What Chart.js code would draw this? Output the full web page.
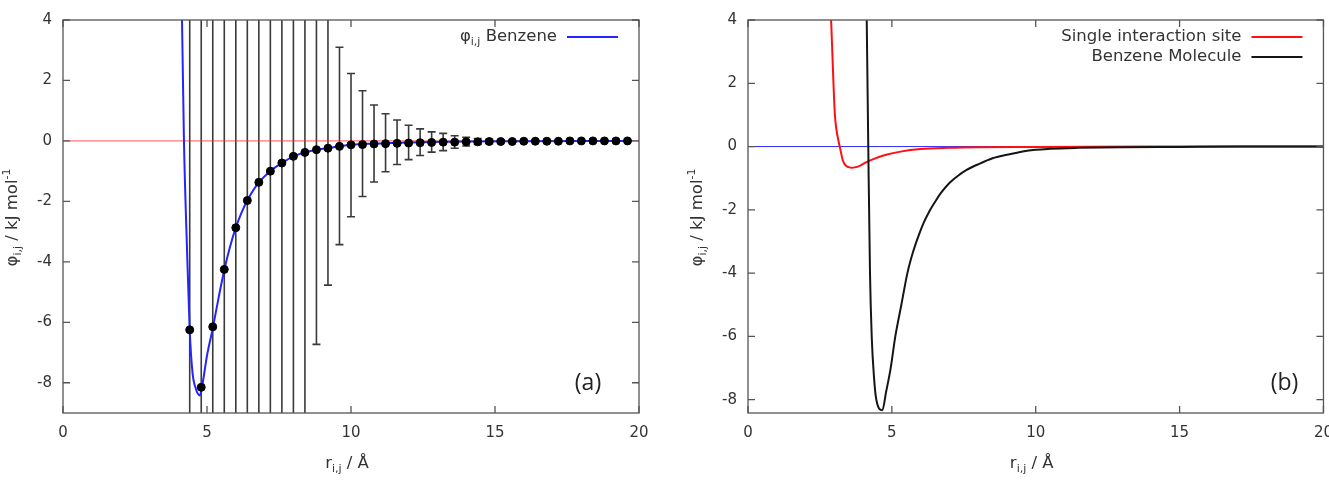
<!DOCTYPE html>
<html>
<head>
<meta charset="utf-8">
<script src="https://cdn.jsdelivr.net/npm/chart.js@4"></script>
<style>
  html, body { margin: 0; padding: 0; background: #fff; overflow: hidden; width: 1329px; height: 480px; }
  .panel { position: absolute; top: 0; height: 480px; }
  #leftBox { left: 0; width: 664px; }
  #rightBox { left: 664px; width: 680px; }
</style>
</head>
<body>
<div class="panel" id="leftBox"><canvas id="chartA" width="664" height="480"></canvas></div>
<div class="panel" id="rightBox"><canvas id="chartB" width="680" height="480"></canvas></div>
<script>
// axis ticks
const xTicks = [0, 5, 10, 15, 20];
const yTicks = [-8, -6, -4, -2, 0, 2, 4];

// (a) sampled points with error bars
const dotR = [4.4, 4.8, 5.2, 5.6, 6.0, 6.4, 6.8, 7.2, 7.6, 8.0, 8.4, 8.8, 9.2, 9.6, 10.0, 10.4, 10.8, 11.2, 11.6, 12.0,
              12.4, 12.8, 13.2, 13.6, 14.0, 14.4, 14.8, 15.2, 15.6, 16.0, 16.4, 16.8, 17.2, 17.6, 18.0, 18.4, 18.8, 19.2, 19.6];
const dotV = [-6.25, -8.15, -6.15, -4.25, -2.87, -1.97, -1.37, -1.0, -0.73, -0.51, -0.38, -0.29, -0.24, -0.18, -0.13, -0.12, -0.1, -0.09, -0.08, -0.07,
              -0.06, -0.05, -0.04, -0.04, -0.03, -0.03, -0.02, -0.02, -0.02, -0.01, -0.01, -0.01, -0.01, 0, 0, 0, 0, 0, 0];
const errHi = [20, 20, 20, 20, 20, 20, 20, 20, 20, 20, 20, 20, 20, 3.1, 2.23, 1.66, 1.19, 0.9, 0.69, 0.52,
               0.40, 0.30, 0.25, 0.17, 0.12, 0.08, 0.05, 0.03, 0.02, 0.02, 0.01, 0.01, 0.01, 0.01, 0.01, 0.01, 0.01, 0.01, 0.01];
const errLo = [-20, -20, -20, -20, -20, -20, -20, -20, -20, -20, -20, -6.73, -4.77, -3.43, -2.51, -1.84, -1.36, -1.02, -0.78, -0.62,
               -0.48, -0.37, -0.32, -0.24, -0.17, -0.12, -0.08, -0.06, -0.04, -0.03, -0.02, -0.02, -0.01, -0.01, -0.01, -0.01, -0.01, -0.01, -0.01];

// (a) fitted curve
const blueR = [4.1, 4.2, 4.3, 4.4, 4.5, 4.58, 4.75, 4.85, 5.0, 5.2, 5.4, 5.6, 5.8, 6.0, 6.2, 6.4, 6.8, 7.2, 7.6, 8.0,
               8.4, 8.8, 9.2, 9.6, 10.0, 10.8, 12.0, 14.0, 16.0, 19.6];
const blueV = [6, 0, -3.4, -6.28, -7.7, -8.1, -8.42, -8.0, -7.1, -6.2, -5.2, -4.27, -3.5, -2.87, -2.37, -1.97, -1.375, -1.0, -0.73, -0.51,
               -0.38, -0.29, -0.24, -0.18, -0.13, -0.09, -0.05, -0.02, -0.01, 0];

// (b) curves
const redR = [2.88, 2.93, 2.97, 3.02, 3.08, 3.14, 3.2, 3.3, 3.4, 3.5, 3.6, 3.75, 3.9, 4.1, 4.4, 4.8, 5.3, 6.0, 7.0, 8.0, 10, 14, 20];
const redV = [4.2, 3.0, 2.0, 1.0, 0.5, 0.2, -0.05, -0.45, -0.6, -0.65, -0.67, -0.65, -0.6, -0.5, -0.38, -0.26, -0.16, -0.08, -0.04, -0.02, -0.01, 0, 0];
const blackR = [4.1, 4.18, 4.24, 4.3, 4.38, 4.46, 4.67, 4.8, 4.95, 5.12, 5.33, 5.54, 5.73, 5.92, 6.1, 6.3, 6.5, 6.72, 7.0, 7.3,
                7.6, 8.0, 8.5, 9.0, 9.7, 10.5, 11.5, 13, 15, 17, 20];
const blackV = [6, 0, -4, -6, -7.3, -8.0, -8.33, -7.75, -7.05, -6.0, -5.0, -4.0, -3.35, -2.84, -2.42, -2.05, -1.75, -1.45, -1.15, -0.92,
                -0.74, -0.56, -0.37, -0.26, -0.13, -0.07, -0.04, -0.02, -0.01, 0, 0];

// zero reference line
const zeroR = [0, 20];
const zeroV = [0, 0];

const FONT = '"DejaVu Sans", sans-serif';
const TXT = '#333';

const pts = (xs, ys) => xs.map((x, i) => ({ x: x, y: ys[i] }));

function setFont(ctx, p) {
  ctx.font = ((p.sub || p.sup) ? 11 : 16.5) + 'px ' + FONT;
}
function richWidth(ctx, parts) {
  let w = 0;
  parts.forEach(p => { setFont(ctx, p); w += ctx.measureText(p.t).width; });
  return w;
}
function drawRich(ctx, parts, x, y, align) {
  const w = richWidth(ctx, parts);
  let cx = align === 'right' ? x - w : (align === 'center' ? x - w / 2 : x);
  ctx.textAlign = 'left';
  ctx.textBaseline = 'middle';
  ctx.fillStyle = TXT;
  parts.forEach(p => {
    setFont(ctx, p);
    const dy = p.sub ? 5 : (p.sup ? -6 : 0);
    ctx.fillText(p.t, cx, y + dy);
    cx += ctx.measureText(p.t).width;
  });
}

// vertical error bars with caps, placed through the scales
const errBarPlugin = {
  id: 'errBars',
  beforeDatasetsDraw(chart, args, opts) {
    if (!opts.r) return;
    const { ctx, chartArea: a, scales: { x, y } } = chart;
    ctx.save();
    ctx.beginPath();
    ctx.rect(a.left, a.top, a.right - a.left, a.bottom - a.top);
    ctx.clip();
    ctx.strokeStyle = '#3a3a3a';
    ctx.lineWidth = 1.6;
    opts.r.forEach((r, i) => {
      const px = x.getPixelForValue(r);
      const hi = y.getPixelForValue(opts.hi[i]);
      const lo = y.getPixelForValue(opts.lo[i]);
      ctx.beginPath();
      ctx.moveTo(px, hi);
      ctx.lineTo(px, lo);
      [hi, lo].forEach(py => {
        if (py > a.top && py < a.bottom) {
          ctx.moveTo(px - 4, py);
          ctx.lineTo(px + 4, py);
        }
      });
      ctx.stroke();
    });
    ctx.restore();
  }
};

// gnuplot-like frame: box, inward ticks, titles, legend, panel tag
const framePlugin = {
  id: 'frame',
  afterDraw(chart, args, opts) {
    const { ctx, chartArea: a, scales: { x, y } } = chart;
    ctx.save();
    ctx.strokeStyle = '#555';
    ctx.lineWidth = 1.3;
    ctx.strokeRect(a.left, a.top, a.right - a.left, a.bottom - a.top);
    ctx.beginPath();
    xTicks.forEach(v => {
      const px = x.getPixelForValue(v);
      ctx.moveTo(px, a.bottom); ctx.lineTo(px, a.bottom - 7);
      ctx.moveTo(px, a.top); ctx.lineTo(px, a.top + 7);
    });
    yTicks.forEach(v => {
      const py = y.getPixelForValue(v);
      ctx.moveTo(a.left, py); ctx.lineTo(a.left + 7, py);
      ctx.moveTo(a.right, py); ctx.lineTo(a.right - 7, py);
    });
    ctx.stroke();

    // axis titles
    drawRich(ctx, [{ t: 'r' }, { t: 'i,j', sub: true }, { t: ' / Å' }], (a.left + a.right) / 2 - 4, 464, 'center');
    ctx.save();
    ctx.translate(a.left - 50, (a.top + a.bottom) / 2 + 1);
    ctx.rotate(-Math.PI / 2);
    drawRich(ctx, [{ t: 'φ' }, { t: 'i,j', sub: true }, { t: ' / kJ mol' }, { t: '-1', sup: true }], 0, 0, 'center');
    ctx.restore();

    // legend
    opts.legend.forEach((item, i) => {
      const ly = a.top + 17 + i * 20;
      drawRich(ctx, item.parts, a.right - 82, ly, 'right');
      ctx.strokeStyle = item.color;
      ctx.lineWidth = 2;
      ctx.beginPath();
      ctx.moveTo(a.right - 72, ly);
      ctx.lineTo(a.right - 21, ly);
      ctx.stroke();
    });

    // panel tag
    ctx.font = '23px "Open Sans", sans-serif';
    ctx.fillStyle = '#222';
    ctx.textAlign = 'center';
    ctx.textBaseline = 'middle';
    ctx.fillText(opts.tag, a.right - opts.tagDx, a.bottom - 30);
    ctx.restore();
  }
};

function axes(yMin, yW) {
  const tickFont = { family: FONT, size: 15 };
  return {
    x: {
      type: 'linear', min: 0, max: 20,
      afterBuildTicks: s => { s.ticks = xTicks.map(v => ({ value: v })); },
      afterFit: s => { s.height = 67; },
      grid: { display: false, drawTicks: false },
      border: { display: false },
      ticks: { padding: 11, color: TXT, font: tickFont, maxRotation: 0 }
    },
    y: {
      type: 'linear', min: yMin, max: 4,
      afterBuildTicks: s => { s.ticks = yTicks.map(v => ({ value: v })); },
      afterFit: s => { s.width = yW; },
      grid: { display: false, drawTicks: false },
      border: { display: false },
      ticks: { padding: 11, color: TXT, font: tickFont }
    }
  };
}

new Chart(document.getElementById('chartA'), {
  type: 'scatter',
  data: {
    datasets: [
      { data: pts(dotR, dotV), pointRadius: 4, pointBackgroundColor: '#000', pointBorderColor: '#000', showLine: false },
      { data: pts(blueR, blueV), showLine: true, borderColor: '#2424ff', borderWidth: 2, pointRadius: 0, cubicInterpolationMode: 'monotone' },
      { data: pts(zeroR, zeroV), showLine: true, borderColor: 'rgba(255,40,40,0.8)', borderWidth: 1, pointRadius: 0 }
    ]
  },
  options: {
    responsive: false,
    animation: false,
    events: [],
    layout: { padding: { left: 0, top: 13, right: 25, bottom: 0 } },
    plugins: {
      legend: { display: false },
      tooltip: { enabled: false },
      errBars: { r: dotR, hi: errHi, lo: errLo },
      frame: {
        legend: [{ parts: [{ t: 'φ' }, { t: 'i,j', sub: true }, { t: ' Benzene' }], color: '#2424ff' }],
        tag: '(a)', tagDx: 51
      }
    },
    scales: axes(-9, 63)
  },
  plugins: [errBarPlugin, framePlugin]
});

new Chart(document.getElementById('chartB'), {
  type: 'scatter',
  data: {
    datasets: [
      { data: pts(blackR, blackV), showLine: true, borderColor: '#151515', borderWidth: 2, pointRadius: 0, cubicInterpolationMode: 'monotone' },
      { data: pts(redR, redV), showLine: true, borderColor: '#ff1010', borderWidth: 2, pointRadius: 0, cubicInterpolationMode: 'monotone' },
      { data: pts(zeroR, zeroV), showLine: true, borderColor: '#2a2aff', borderWidth: 1, pointRadius: 0 }
    ]
  },
  options: {
    responsive: false,
    animation: false,
    events: [],
    layout: { padding: { left: 0, top: 13, right: 20, bottom: 0 } },
    plugins: {
      legend: { display: false },
      tooltip: { enabled: false },
      frame: {
        legend: [
          { parts: [{ t: 'Single interaction site' }], color: '#ff1010' },
          { parts: [{ t: 'Benzene Molecule' }], color: '#151515' }
        ],
        tag: '(b)', tagDx: 39
      }
    },
    scales: axes(-8.42, 84)
  },
  plugins: [framePlugin]
});
</script>
</body>
</html>
